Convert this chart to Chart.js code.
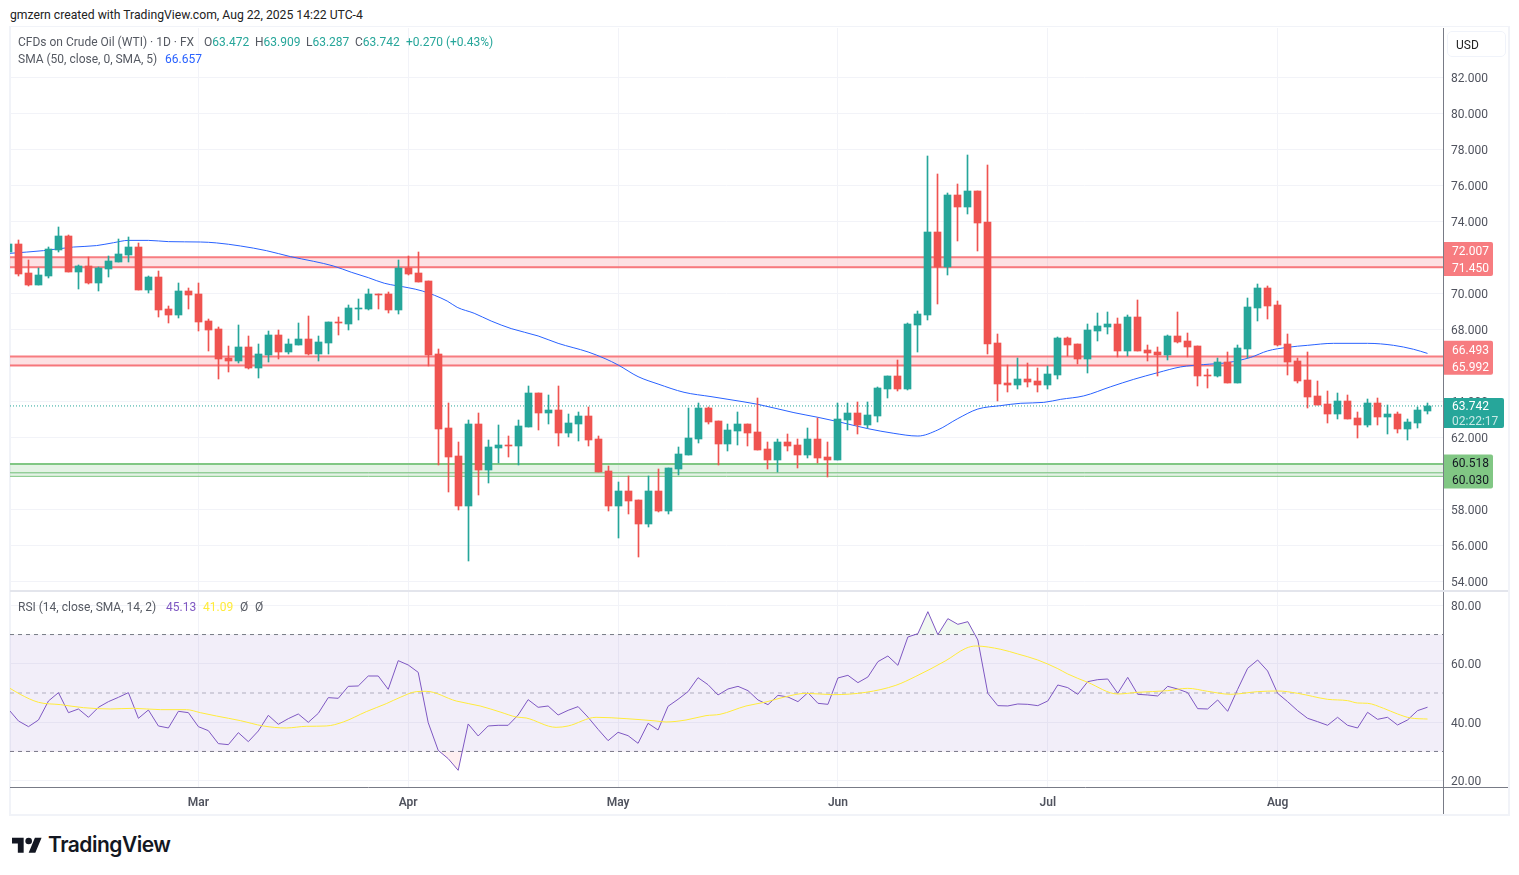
<!DOCTYPE html>
<html lang="en">
  <head>
    <meta charset="UTF-8" />
    <title>CFDs on Crude Oil (WTI)</title>
    <script src="https://cdn.jsdelivr.net/npm/chart.js@4"></script>
    <style>
      html, body { margin: 0; background: #fff; overflow: hidden; }
      body { font: 12px Roboto, sans-serif; color: #555962; }
      .abs { position: absolute; white-space: nowrap; }
      canvas { position: absolute; }
      #frame { left: 9px; top: 26px; width: 1497px; height: 787px; border: 2px solid #f1f3f8; border-top-width: 1px; }
      #divider { left: 10px; top: 590px; width: 1498px; height: 2px; background: #e3e5ec; }
      #axisFoot { left: 1443px; top: 787px; width: 1px; height: 27px; background: #787b86; }
      #axisFootH { left: 1443px; top: 787px; width: 65px; height: 1px; background: #787b86; }
      #usd { left: 1447px; top: 31px; width: 57px; height: 24px; border: 1px solid #f0f3fa; border-radius: 5px; line-height: 27px; text-indent: 8px; color: #222; }
      #credit { left: 10px; top: 8px; color: #222; font-size: 12.2px; }
      .up { color: #26a69a; }
      #logo { left: 12px; top: 834px; }
      #brand { left: 48px; top: 832px; color: #131722; font: 600 21px Inter, sans-serif; letter-spacing: -0.5px; }
    </style>
  </head>
  <body>
    <div id="frame" class="abs"></div>
    <canvas id="priceChart" width="1499" height="563" style="left:10px;top:28px"></canvas>
    <canvas id="rsiChart" width="1499" height="222" style="left:10px;top:592px"></canvas>
    <div id="divider" class="abs"></div>
    <div id="axisFoot" class="abs"></div>
    <div id="axisFootH" class="abs"></div>
    <div id="usd" class="abs">USD</div>
    <div id="credit" class="abs">gmzern created with TradingView.com, Aug 22, 2025 14:22 UTC-4</div>
    <div class="abs" style="left:18px;top:35px">CFDs on Crude Oil (WTI) · 1D · FX</div>
    <div class="abs" style="left:204px;top:35px">O<span class="up">63.472</span></div>
    <div class="abs" style="left:255px;top:35px">H<span class="up">63.909</span></div>
    <div class="abs" style="left:306px;top:35px">L<span class="up">63.287</span></div>
    <div class="abs" style="left:355px;top:35px">C<span class="up">63.742</span></div>
    <div class="abs up" style="left:406px;top:35px">+0.270 (+0.43%)</div>
    <div class="abs" style="left:18px;top:52px">SMA (50, close, 0, SMA, 5)</div>
    <div class="abs" style="left:165px;top:52px;color:#2962ff">66.657</div>
    <div class="abs" style="left:18px;top:600px">RSI (14, close, SMA, 14, 2)</div>
    <div class="abs" style="left:166px;top:600px;color:#7e57c2">45.13</div>
    <div class="abs" style="left:203px;top:600px;color:#ffeb3b">41.09</div>
    <div class="abs" style="left:240px;top:600px">Ø</div>
    <div class="abs" style="left:255px;top:600px">Ø</div>
    <svg id="logo" class="abs" width="30" height="24" viewBox="0 0 36 28"><path fill="#131722" d="M14 22H7V11H0V4h14v18zM28 22h-8l7.5-18h8L28 22z"/><circle fill="#131722" cx="20" cy="8" r="4"/></svg>
    <div id="brand" class="abs">TradingView</div>
    <script>
      // daily candles, first one is cut off by the left edge of the pane
      const opens = [72.30,
        72.74,71.13,70.46,70.96,72.41,73.19,71.19,71.52,70.57,71.35,
        71.74,72.13,72.57,70.19,70.91,69.13,68.80,70.13,69.96,68.46,
        68.02,66.41,66.24,67.02,65.85,66.57,67.69,66.74,67.13,67.46,
        66.63,67.24,68.41,68.30,69.13,69.13,69.96,69.96,69.07,71.41,
        71.13,70.69,66.63,62.52,60.96,58.19,62.74,60.19,61.41,61.57,
        61.52,62.57,64.46,63.35,63.52,62.24,62.74,63.19,61.91,60.13,
        58.19,59.02,58.52,57.19,59.02,57.91,60.24,61.02,61.91,63.63,
        62.91,61.63,62.35,62.74,62.30,61.35,60.74,61.74,61.57,61.02,
        61.91,60.91,60.74,62.96,63.35,62.69,63.19,64.69,65.41,64.69,
        68.24,68.80,73.41,71.46,75.46,74.80,75.69,73.96,67.24,65.02,
        64.91,65.24,65.13,64.91,65.46,67.52,67.19,66.35,67.91,68.13,
        68.30,66.80,68.69,66.85,66.74,66.57,67.63,67.35,67.07,65.46,
        65.41,66.19,65.02,66.91,69.19,70.30,69.35,67.19,66.24,65.19,
        64.30,63.85,63.30,64.02,63.07,62.69,63.91,63.13,63.30,62.46,
        62.80,63.472];
      const highs = [72.80,
        72.96,71.85,71.41,72.57,73.69,73.24,71.57,72.02,71.46,72.07,
        73.02,73.13,72.80,70.96,71.24,69.30,70.57,70.30,70.57,68.57,
        68.13,67.07,68.24,67.63,67.19,67.91,67.96,67.46,68.35,68.74,
        67.63,68.41,68.69,69.35,69.69,70.24,69.96,70.07,71.85,72.07,
        72.30,70.69,66.91,63.91,61.74,62.96,63.35,61.85,62.69,62.07,
        62.96,64.85,64.46,64.35,64.85,63.30,63.41,63.69,62.07,60.41,
        59.52,59.85,58.52,59.85,60.24,60.30,61.46,63.63,63.91,63.69,
        62.91,62.74,63.41,62.74,64.19,61.74,61.91,62.19,61.91,62.52,
        63.07,61.74,63.91,63.91,63.96,63.96,64.80,65.41,66.30,68.35,
        69.02,77.63,76.63,75.57,76.07,77.69,75.69,77.13,67.74,66.02,
        66.41,66.13,65.85,65.96,67.57,67.57,67.19,68.30,68.91,68.96,
        68.63,68.80,69.63,67.13,67.02,67.69,68.96,67.80,67.07,65.80,
        66.41,66.74,67.13,69.74,70.52,70.41,69.57,67.74,66.41,66.74,
        65.13,64.57,64.46,64.35,63.41,64.13,64.19,63.80,63.41,63.02,
        63.69,63.909];
      const lows = [72.20,
        70.96,70.41,70.46,70.85,72.30,71.19,70.24,70.52,70.13,70.91,
        71.74,71.74,70.19,70.02,68.69,68.35,68.63,69.13,67.91,66.80,
        65.24,65.63,66.13,65.80,65.30,66.19,66.35,66.63,67.13,66.57,
        66.24,66.63,67.69,67.96,68.52,69.07,69.13,68.91,68.85,71.02,
        70.63,65.96,60.46,58.96,57.96,55.13,58.80,59.46,60.57,60.91,
        60.46,62.57,62.41,62.74,61.52,62.02,61.80,61.52,60.07,57.91,
        56.41,57.74,55.35,57.02,57.85,57.74,59.91,61.02,61.69,62.74,
        60.46,61.24,61.57,61.52,61.30,60.24,60.07,61.24,60.30,60.85,
        60.57,59.80,60.74,62.41,62.19,62.52,62.85,64.19,64.57,64.63,
        66.74,68.52,69.41,71.02,72.91,74.41,72.35,66.63,64.02,64.52,
        64.69,64.80,64.52,64.69,65.24,66.52,66.07,65.57,67.35,67.74,
        66.46,66.52,66.80,66.24,65.41,66.30,67.24,66.46,64.85,64.74,
        65.35,65.02,65.02,66.41,68.46,68.57,67.07,65.46,65.02,63.63,
        63.80,62.80,63.02,63.02,61.96,62.57,62.69,62.19,62.24,61.85,
        62.52,63.287];
      const closes = [72.74,
        71.07,70.46,71.02,72.46,73.19,71.19,71.52,70.57,71.41,71.80,
        72.19,72.57,70.19,70.91,69.07,68.80,70.13,69.91,68.41,67.96,
        66.35,66.24,67.02,65.85,66.63,67.69,66.74,67.19,67.46,66.63,
        67.30,68.41,68.35,69.19,69.19,69.96,69.91,69.07,71.41,71.07,
        70.63,66.57,62.46,60.91,58.19,62.74,60.19,61.46,61.57,61.52,
        62.63,64.46,63.35,63.52,62.24,62.80,63.19,61.85,60.07,58.19,
        59.02,58.46,57.19,59.02,57.91,60.30,61.07,61.96,63.63,62.85,
        61.63,62.41,62.74,62.24,61.30,60.74,61.74,61.52,61.02,61.91,
        60.85,60.74,63.02,63.35,62.69,63.24,64.74,65.41,64.69,68.30,
        68.85,73.41,71.46,75.46,74.80,75.69,73.91,67.19,64.96,64.91,
        65.24,65.07,64.91,65.52,67.52,67.13,66.35,67.96,68.19,68.30,
        66.80,68.69,66.80,66.69,66.57,67.63,67.30,67.02,65.41,65.41,
        66.19,65.02,66.96,69.24,70.30,69.30,67.13,66.19,65.13,64.24,
        63.80,63.30,64.02,63.02,62.69,63.91,63.13,63.30,62.46,62.85,
        63.52,63.742];

      // SMA 50, read at the bends of the line
      const smaSessions = [-0.85,2.5,5.5,7.8,9.5,11,13,15,18.2,19.8,22.2,24.8,27.2,29.5,31.5,33.3,35,36.6,39,40.4,42.9,43.9,45.6,47.3,49.3,52,54,57,58.7,60,62,64,66.6,69.3,71,74,77.6,80,82,85,87.6,90,92,94,96,98.3,100.3,102.6,104.3,106.6,109.3,111.6,114,116.3,118.6,121,123.3,125,127,129,131.6,135,137.6,139.6,141];
      const smaValues = [72.22,72.37,72.57,72.65,72.81,72.94,72.94,72.87,72.85,72.80,72.63,72.37,72.04,71.78,71.52,71.17,70.87,70.56,70.31,70.13,69.57,69.22,68.89,68.46,68.04,67.63,67.22,66.74,66.37,66.02,65.37,64.96,64.50,64.26,64.11,63.83,63.37,63.11,62.87,62.48,62.22,62.07,62.41,63.04,63.57,63.76,63.89,63.94,64.11,64.30,64.81,65.22,65.59,65.91,66.04,66.15,66.44,66.80,67.00,67.11,67.22,67.22,67.11,66.89,66.66];

      const rsiValues = [44.41,
        40.42,38.48,40.76,47.26,50.12,43.27,44.53,41.68,45.10,47.04,
        48.52,50.12,41.33,44.19,38.71,38.03,43.73,43.27,38.48,37.11,
        32.67,32.32,36.43,33.35,37.00,42.36,39.28,41.22,42.82,39.97,
        43.04,48.41,48.18,52.28,52.40,55.82,55.82,51.26,61.07,59.58,
        57.07,39.85,30.38,27.53,23.54,39.40,35.29,38.71,38.94,38.94,
        42.47,47.72,45.10,45.55,42.47,44.07,45.33,41.68,37.57,33.69,
        36.54,35.40,32.78,39.62,37.34,45.44,47.84,50.46,55.25,52.85,
        49.32,51.37,52.28,50.80,47.61,46.01,49.20,48.63,47.04,50.12,
        46.47,46.12,55.14,56.05,53.54,55.48,60.72,62.66,59.47,69.16,
        70.30,77.83,69.96,75.44,73.50,74.41,68.14,49.89,45.67,45.56,
        46.24,46.12,45.67,47.26,52.74,51.83,49.55,53.88,54.56,54.79,
        49.89,55.36,49.55,49.32,48.98,52.28,51.37,50.12,44.64,44.53,
        47.61,43.73,51.26,58.44,61.29,57.53,49.89,47.04,43.96,41.33,
        40.19,38.94,41.68,38.94,38.03,43.39,40.99,41.68,39.05,40.76,
        43.96,45.13];

      // moving average of the RSI, also read at the bends
      const rsiAvgSessions = [-0.85,0.17,2,4.2,6.5,9.2,11.5,14.2,16.8,18.2,19.8,22.2,24.5,26.8,28.8,30.8,32.5,34.8,36.8,38.2,39.8,40.8,43.8,46.2,48.2,49.8,50.8,53.8,55,57.8,60.8,63.8,64.8,66.8,68.8,70.2,72.8,74.8,76.8,78.8,81.5,84.8,87.8,89.8,92.8,94.8,95.8,98.3,100,102,104,105,107,110,112,115,117,119,121.3,124,126,128,131,133,134,135,136.6,138,139.3,141];
      const rsiAvgValues = [51.60,49.55,46.81,46.01,44.98,44.53,44.76,44.30,44.30,43.27,42.13,40.54,38.71,38.03,38.60,38.71,40.08,43.61,46.35,48.52,50.46,50.57,47.26,45.55,43.50,41.79,41.45,38.25,38.71,41.68,41.22,40.42,40.08,40.76,42.25,42.70,45.55,46.92,48.75,49.89,49.43,50.23,52.63,55.70,61.07,65.29,66.08,64.94,63.35,61.29,58.33,56.50,53.65,49.66,50.23,50.80,51.60,50.57,49.55,50.46,50.69,49.89,47.84,47.38,46.58,46.47,44.76,42.82,41.45,41.09];

      const priceTicks = [54,56,58,60,62,64,66,68,70,72,74,76,78,80,82];
      const rsiTicks = [20,40,60,80];
      const monthSessions = [18,39,60,82,103,126];
      const monthLabels = ["Mar","Apr","May","Jun","Jul","Aug"];

      const zoneTops = [72.007,66.493,60.518];
      const zoneBottoms = [71.45,65.992,60.03];
      const supportFloor = 59.83;
      const lastPrice = 63.742;
      const countdown = "02:22:17";

      const UP = "#26a69a", DOWN = "#ef5350", GRID = "#f2f3f8";
      const RED_LINE = "#f77c80", RED_BAND = "rgba(242,54,69,.15)";
      const GREEN_LINE = "#81c784", GREEN_BAND = "rgba(76,175,80,.15)";
      const AXIS_TEXT = "#50535e", AXIS_LINE = "#787b86";
      const FONT = "Roboto, sans-serif";
      const xMin = -0.85, xMax = 142.55;

      const sessions = opens.map((_, n) => n - 1);
      const candleColors = opens.map((o, n) => (closes[n] >= o ? UP : DOWN));
      const pairs = (xs, ys) => xs.map((x, n) => ({ x: x, y: ys[n] }));
      const flat = y => [{ x: xMin, y: y }, { x: xMax, y: y }];

      function hline(y, color, width, order, extra) {
        return Object.assign({ type: "line", data: flat(y), borderColor: color, borderWidth: width, pointRadius: 0, order: order, fill: false }, extra);
      }

      // snap candles to whole pixels so they stay crisp like the original
      const crispCandles = {
        id: "crispCandles",
        beforeDatasetsDraw(chart) {
          chart.data.datasets.forEach((ds, n) => {
            if (!ds.candle) return;
            chart.getDatasetMeta(n).data.forEach(el => {
              el.x = Math.floor(el.x) + 0.5;
              el.y = Math.round(el.y);
              el.base = Math.max(Math.round(el.base), el.y + 1);
            });
          });
        }
      };

      function tag(ctx, x, top, bottom, width, color) {
        ctx.fillStyle = color;
        ctx.beginPath();
        ctx.roundRect(x, top, width, bottom - top, [0, 2, 2, 0]);
        ctx.fill();
      }

      // labels stuck to the price scale
      const priceTags = {
        id: "priceTags",
        afterDraw(chart) {
          const { ctx, chartArea, scales } = chart;
          const left = chartArea.right + 1;
          ctx.save();
          ctx.font = "12px " + FONT;
          ctx.textBaseline = "middle";
          const shifts = [-2.7, -2.7, 3.6];
          zoneTops.forEach((top, n) => {
            const mid = (scales.y.getPixelForValue(top) + scales.y.getPixelForValue(zoneBottoms[n])) / 2 + shifts[n];
            const green = n === 2;
            tag(ctx, left, mid - 17.5, mid + 16.5, 49, green ? GREEN_LINE : RED_LINE);
            ctx.fillStyle = green ? "#131722" : "#fff";
            ctx.fillText(top.toFixed(3), left + 8, mid - 7.5);
            ctx.fillText(zoneBottoms[n].toFixed(3), left + 8, mid + 9.5);
          });
          const y = scales.y.getPixelForValue(lastPrice);
          tag(ctx, left, y - 8, y + 22, 60, UP);
          ctx.fillStyle = "#fff";
          ctx.fillText(lastPrice.toFixed(3), left + 8, y + 1.5);
          ctx.fillStyle = "rgba(255,255,255,.75)";
          ctx.fillText(countdown, left + 8, y + 16);
          ctx.restore();
        }
      };

      const sharedX = {
        type: "linear",
        offset: false,
        min: xMin,
        max: xMax,
        afterBuildTicks: s => { s.ticks = monthSessions.map(v => ({ value: v })); },
        grid: { color: GRID, drawTicks: false, offset: false }
      };
      const rightAxis = (ticks, digits) => ({
        position: "right",
        afterBuildTicks: s => { s.ticks = ticks.map(v => ({ value: v })); },
        afterFit: s => { s.width = 66; s.paddingTop = 0; s.paddingBottom = 0; },
        grid: { color: GRID, drawTicks: false },
        border: { color: AXIS_LINE },
        ticks: { color: AXIS_TEXT, padding: 8, labelOffset: 1.5, font: { family: FONT, size: 12 }, callback: v => v.toFixed(digits) }
      });

      new Chart(document.getElementById("priceChart"), {
        type: "bar",
        data: {
          datasets: [
            { candle: true, data: pairs(sessions, opens.map((o, n) => [o, closes[n]])), backgroundColor: candleColors, barThickness: 7, grouped: false, order: 1 },
            { candle: true, data: pairs(sessions, lows.map((l, n) => [l, highs[n]])), backgroundColor: candleColors, barThickness: 1, grouped: false, order: 2 },
            { type: "line", data: pairs(smaSessions, smaValues), borderColor: "#2962ff", borderWidth: 1, pointRadius: 0, cubicInterpolationMode: "monotone", order: 3 },
            hline(lastPrice, UP, 1, 4, { borderDash: [1, 2] }),
            hline(zoneTops[0], RED_LINE, 2, 5, { fill: "+1", backgroundColor: RED_BAND }),
            hline(zoneBottoms[0], RED_LINE, 2, 5),
            hline(zoneTops[1], RED_LINE, 2, 5, { fill: "+1", backgroundColor: RED_BAND }),
            hline(zoneBottoms[1], RED_LINE, 2, 5),
            hline(zoneTops[2], GREEN_LINE, 2, 5, { fill: "+2", backgroundColor: GREEN_BAND }),
            hline(zoneBottoms[2], GREEN_LINE, 1, 5),
            hline(supportFloor, GREEN_LINE, 1, 5)
          ]
        },
        options: {
          responsive: false,
          animation: false,
          events: [],
          layout: { padding: 0 },
          plugins: { legend: { display: false }, tooltip: { enabled: false } },
          scales: {
            x: Object.assign({}, sharedX, { afterFit: s => { s.height = 0; s.paddingLeft = 0; s.paddingRight = 0; }, ticks: { display: false }, border: { display: false } }),
            y: Object.assign(rightAxis(priceTicks, 3), { min: 53.461, max: 84.739 })
          }
        },
        plugins: [crispCandles, priceTags]
      });

      new Chart(document.getElementById("rsiChart"), {
        type: "line",
        data: {
          datasets: [
            { data: pairs(sessions, rsiValues), borderColor: "#7e57c2", borderWidth: 1, pointRadius: 0, order: 1,
              fill: { target: { value: 70 }, above: "rgba(76,175,80,.08)", below: "transparent" } },
            { data: pairs(sessions, rsiValues), borderColor: "transparent", borderWidth: 0, pointRadius: 0, order: 1,
              fill: { target: { value: 30 }, above: "transparent", below: "rgba(242,54,69,.08)" } },
            { data: pairs(rsiAvgSessions, rsiAvgValues), borderColor: "#ffeb3b", borderWidth: 1, pointRadius: 0, cubicInterpolationMode: "monotone", order: 0 },
            hline(70, AXIS_LINE, 1, 3, { borderDash: [4, 4], fill: "+1", backgroundColor: "rgba(126,87,194,.1)" }),
            hline(30, AXIS_LINE, 1, 3, { borderDash: [4, 4] }),
            hline(50, "rgba(120,123,134,.55)", 1, 3, { borderDash: [4, 4] })
          ]
        },
        options: {
          responsive: false,
          animation: false,
          events: [],
          layout: { padding: 0 },
          plugins: { legend: { display: false }, tooltip: { enabled: false } },
          scales: {
            x: Object.assign({}, sharedX, {
              afterFit: s => { s.height = 27; s.paddingLeft = 0; s.paddingRight = 0; },
              border: { color: AXIS_LINE },
              ticks: { autoSkip: false, maxRotation: 0, padding: 9, color: AXIS_TEXT, font: { family: FONT, size: 12, weight: "600" }, callback: v => monthLabels[monthSessions.indexOf(v)] }
            }),
            y: Object.assign(rightAxis(rsiTicks, 2), { min: 17.83, max: 84.56 })
          }
        }
      });
    </script>
  </body>
</html>
